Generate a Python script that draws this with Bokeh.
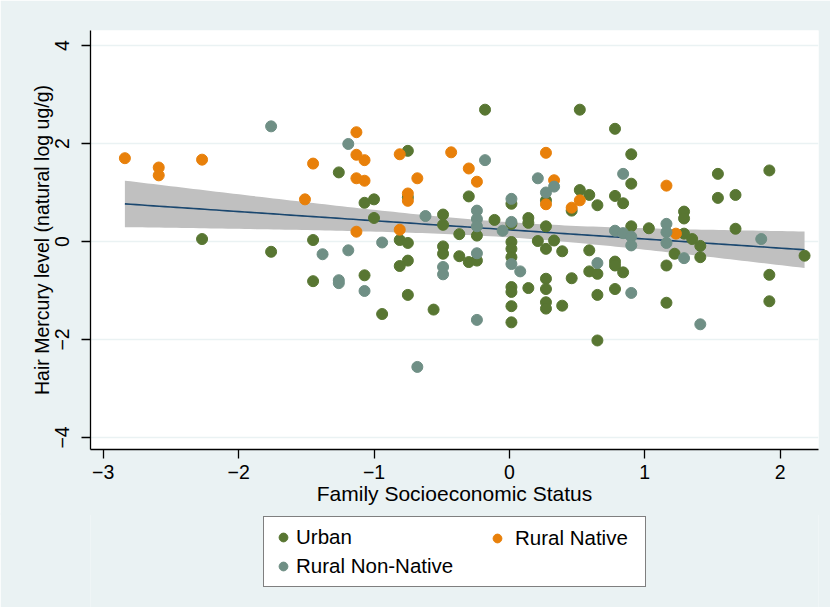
import numpy as np
from bokeh.plotting import figure
from bokeh.models import Range1d, FixedTicker, Legend, LegendItem
from bokeh.layouts import column
from bokeh.embed import file_html
from bokeh.resources import INLINE

# ---- data ----
urban_x = [-2.27, -1.76, -1.45, -1.45, -1.26, -1.07, -1.00, -1.00, -1.07, -0.94,
           -0.81, -0.75, -0.75, -0.81, -0.75, -0.75, -0.75, -0.56, -0.49, -0.49,
           -0.49, -0.49, -0.37, -0.37, -0.30, -0.30, -0.24, -0.24, -0.18, -0.11,
           0.015, 0.015, 0.015, 0.015, 0.015, 0.015, 0.015, 0.015, 0.015, 0.14,
           0.14, 0.14, 0.21, 0.27, 0.27, 0.27, 0.27, 0.27, 0.27, 0.27,
           0.33, 0.39, 0.39, 0.46, 0.46, 0.52, 0.52, 0.59, 0.65, 0.59,
           0.59, 0.65, 0.65, 0.65, 0.78, 0.78, 0.84, 0.78, 0.78, 0.84,
           0.78, 0.90, 0.90, 0.90, 1.03, 1.16, 1.16, 1.22, 1.29, 1.29,
           1.29, 1.35, 1.41, 1.41, 1.54, 1.54, 1.67, 1.67, 1.92, 1.92,
           1.92, 2.18]
urban_y = [0.05, -0.21, 0.03, -0.81, 1.41, 0.79, 0.86, 0.48, -0.69, -1.48,
           0.03, -0.03, -0.39, -0.50, -1.09, 1.85, 0.90, -1.39, 0.55, 0.34,
           -0.10, -0.25, 0.15, -0.30, 0.92, -0.42, 0.12, -0.39, 2.69, 0.44,
           0.77, 0.36, -0.01, -0.15, -0.32, -0.93, -1.03, -1.32, -1.65, 0.48,
           0.38, -0.95, 0.01, 0.84, 0.31, -0.15, -0.76, -0.97, -1.24, -1.37,
           0.02, -0.20, -1.31, 0.63, -0.75, 2.69, 1.05, 0.95, 0.74, -0.18,
           -0.61, -0.66, -1.09, -2.02, 2.30, 0.93, 0.78, -0.41, -0.49, -0.63,
           -0.97, 1.78, 1.18, 0.31, 0.27, -0.49, -1.25, -0.25, 0.61, 0.47,
           0.16, 0.05, -0.09, -0.32, 1.38, 0.89, 0.95, 0.26, 1.45, -0.68,
           -1.22, -0.29]

native_x = [-2.84, -2.59, -2.59, -2.27, -1.51, -1.45, -1.13, -1.13, -1.07, -1.13,
            -1.07, -1.13, -0.81, -0.81, -0.75, -0.75, -0.68, -0.43, -0.30, -0.24,
            0.27, 0.27, 0.33, 0.46, 0.52, 1.16, 1.23]
native_y = [1.70, 1.51, 1.35, 1.67, 0.86, 1.59, 2.23, 1.77, 1.66, 1.29,
            1.24, 0.20, 1.78, 0.24, 0.98, 0.83, 1.29, 1.82, 1.49, 1.22,
            1.81, 0.76, 1.25, 0.69, 0.84, 1.14, 0.16]

nonnative_x = [-1.76, -1.38, -1.26, -1.26, -1.19, -1.19, -1.07, -0.94, -0.62, -0.68,
               -0.49, -0.49, -0.24, -0.24, -0.24, -0.24, -0.24, -0.18, -0.05, 0.015,
               0.015, 0.015, 0.08, 0.21, 0.27, 0.33, 0.65, 0.78, 0.84, 0.84,
               0.90, 0.90, 0.90, 1.16, 1.16, 1.16, 1.29, 1.41, 1.86]
nonnative_y = [2.35, -0.26, -0.79, -0.85, 1.99, -0.18, -1.01, -0.02, 0.52, -2.56,
               -0.52, -0.67, 0.63, 0.46, 0.31, -0.24, -1.60, 1.66, 0.22, 0.87,
               0.40, -0.46, -0.61, 1.29, 1.00, 1.12, -0.44, 0.22, 1.38, 0.17,
               0.10, -0.08, -1.05, 0.36, 0.19, -0.03, -0.34, -1.69, 0.05]

x_ticks = [-3, -2, -1, 0, 1, 2]
y_ticks = [-4, -2, 0, 2, 4]

GREEN = "#587632"
ORANGE = "#E8800A"
TEAL = "#6F8F85"
NAVY = "#1A476F"
BG = "#EAF2F3"
FONT = "Liberation Sans"

# ---- linear fit with 95% CI (computed from the points) ----
ax = np.array(urban_x + native_x + nonnative_x, dtype=float)
ay = np.array(urban_y + native_y + nonnative_y, dtype=float)
n = len(ax)
xbar, ybar = ax.mean(), ay.mean()
sxx = ((ax - xbar) ** 2).sum()
slope = ((ax - xbar) * (ay - ybar)).sum() / sxx
icpt = ybar - slope * xbar
s2 = ((ay - (icpt + slope * ax)) ** 2).sum() / (n - 2)
xg = np.linspace(ax.min(), ax.max(), 120)
yg = icpt + slope * xg
se = np.sqrt(s2 * (1.0 / n + (xg - xbar) ** 2 / sxx))
tcrit = 1.975
lo, hi = yg - tcrit * se, yg + tcrit * se

# ---- main plot ----
p = figure(width=830, height=515, output_backend="svg", toolbar_location=None,
           x_range=Range1d(-3.094, 2.283), y_range=Range1d(-4.245, 4.306),
           min_border_left=90, min_border_right=12, min_border_top=30, min_border_bottom=66)
p.background_fill_color = "white"
p.border_fill_color = BG
p.outline_line_color = None

p.varea(x=xg, y1=lo, y2=hi, fill_color="#C0C0C0", fill_alpha=1.0)
p.line(x=xg, y=yg, line_color=NAVY, line_width=1.6)

p.scatter(x=urban_x, y=urban_y, size=11, fill_color=GREEN, line_color=GREEN)
p.scatter(x=native_x, y=native_y, size=11, fill_color=ORANGE, line_color=ORANGE)
p.scatter(x=nonnative_x, y=nonnative_y, size=11, fill_color=TEAL, line_color=TEAL)

p.xaxis.ticker = FixedTicker(ticks=x_ticks)
p.yaxis.ticker = FixedTicker(ticks=y_ticks)
p.xgrid.grid_line_color = None
p.ygrid.grid_line_color = BG
p.ygrid.grid_line_width = 1.5

for a in (p.xaxis[0], p.yaxis[0]):
    a.axis_line_color = "black"
    a.axis_line_width = 1.3
    a.major_tick_line_color = "black"
    a.major_tick_line_width = 1.3
    a.major_tick_in = 0
    a.major_tick_out = 9
    a.minor_tick_line_color = None
    a.major_label_text_font = FONT
    a.major_label_text_font_size = "19.5px"
    a.major_label_text_color = "black"
    a.axis_label_text_font = FONT
    a.axis_label_text_font_style = "normal"
    a.axis_label_text_color = "black"

p.xaxis.axis_label = "Family Socioeconomic Status"
p.yaxis.axis_label = "Hair Mercury level (natural log ug/g)"
p.xaxis.axis_label_text_font_size = "21px"
p.yaxis.axis_label_text_font_size = "19.5px"
p.xaxis.major_label_standoff = 6
p.xaxis.axis_label_standoff = 0
p.yaxis.major_label_orientation = "vertical"
p.yaxis.major_label_standoff = 12
p.yaxis.axis_label_standoff = 0

# ---- legend panel below (same background), overlapping the seam ----
q = figure(width=830, height=95, output_backend="svg", toolbar_location=None,
           x_range=Range1d(100, 101), y_range=Range1d(100, 101),
           x_axis_location=None, y_axis_location=None,
           min_border_left=0, min_border_right=0, min_border_top=0, min_border_bottom=0)
q.margin = (-3, 0, 0, 0)
q.background_fill_color = BG
q.border_fill_color = BG
q.outline_line_color = None
q.grid.visible = False

k_u = q.scatter(x=urban_x, y=urban_y, size=11, fill_color=GREEN, line_color=GREEN)
k_n = q.scatter(x=native_x, y=native_y, size=11, fill_color=ORANGE, line_color=ORANGE)
k_t = q.scatter(x=nonnative_x, y=nonnative_y, size=11, fill_color=TEAL, line_color=TEAL)

leg1 = Legend(items=[LegendItem(label="Urban", renderers=[k_u]),
                     LegendItem(label="Rural Non-Native", renderers=[k_t])],
              location=(173, 20), orientation="vertical",
              glyph_width=22, glyph_height=24, label_height=24, label_width=341,
              label_standoff=2, spacing=5, padding=8, margin=0,
              border_line_color="black", border_line_width=1,
              background_fill_color="white", background_fill_alpha=1.0,
              label_text_font=FONT, label_text_font_size="20.5px",
              label_text_color="black", label_text_baseline="middle")
leg2 = Legend(items=[LegendItem(label="Rural Native", renderers=[k_n])],
              location=(396, 57), orientation="vertical",
              glyph_width=22, glyph_height=24, label_height=24,
              label_standoff=7, spacing=0, padding=0, margin=0,
              border_line_color=None, background_fill_alpha=0.0,
              label_text_font=FONT, label_text_font_size="20.5px",
              label_text_color="black", label_text_baseline="middle")
q.add_layout(leg1)
q.add_layout(leg2)

layout = column(p, q, spacing=0)
html = file_html(layout, INLINE)
html = html.replace("<body>", '<body style="background-color:%s;">' % BG, 1)
open("out.html", "w").write(html)
